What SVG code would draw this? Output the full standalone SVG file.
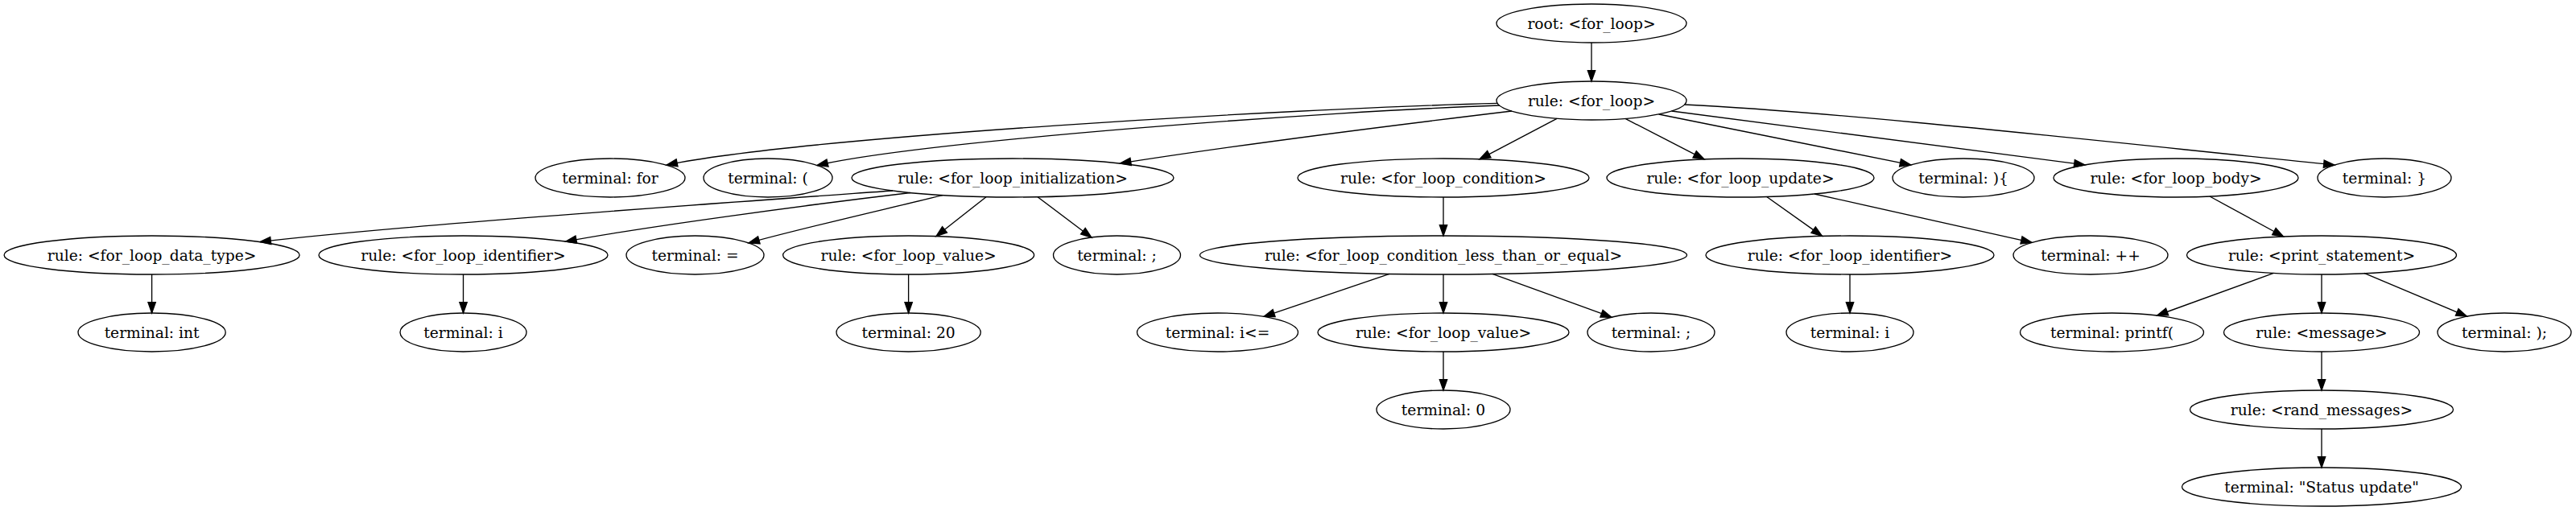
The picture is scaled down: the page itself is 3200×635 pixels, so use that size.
<svg xmlns="http://www.w3.org/2000/svg" width="3200" height="635" viewBox="0 0 3200 635">
<style>
.n ellipse{fill:none;stroke:#000;stroke-width:1.33}
.n text{font-family:"DejaVu Serif","Liberation Serif",serif;font-size:18.67px;text-anchor:middle;fill:#000}
#edges path{fill:none;stroke:#000;stroke-width:1.33;marker-end:url(#arr)}
</style>
<defs>
<marker id="arr" markerWidth="14" markerHeight="10" refX="13.33" refY="4.67" orient="auto" markerUnits="userSpaceOnUse" overflow="visible">
<path d="M0,0 L13.33,4.67 L0,9.33 Z" fill="#000" stroke="#000" stroke-width="1.33"/>
</marker>
</defs>
<rect width="3200" height="635" fill="#fff"/>
<g id="edges">
<path d="M1977,53 L1977,101"/>
<path d="M1860,128.4 C1600,135 1000,170 828,205"/>
<path d="M1863,131 C1650,138 1150,175 1015,205.5"/>
<path d="M1878,138 C1720,157 1550,178 1391.5,203"/>
<path d="M1934,147.4 L1838,197.8"/>
<path d="M2019,147.4 L2117,197.9"/>
<path d="M2060.6,142 L2373.6,204.9"/>
<path d="M2076.5,138 L2590,204.9"/>
<path d="M2092.5,130 C2300,140 2650,180 2900,205"/>
<path d="M1109,237 C900,252 500,280 323,300.6"/>
<path d="M1131,239.5 C1000,255 800,282 702.7,300.1"/>
<path d="M1171,242.6 C1100,260 990,285 930,301.9"/>
<path d="M1225,244.7 L1163,293.6"/>
<path d="M1289,244.7 L1356,295.2"/>
<path d="M1793,245 L1793,293"/>
<path d="M2194.7,244.5 L2263.5,293.4"/>
<path d="M2254,241 L2524,301.4"/>
<path d="M2745,244 L2836.6,294"/>
<path d="M188.6,341 L188.6,389"/>
<path d="M575.5,341 L575.5,389"/>
<path d="M1128.6,341 L1128.6,389"/>
<path d="M1726,340.4 L1570,393.4"/>
<path d="M1793,341 L1793,389"/>
<path d="M1854,340.4 L2002,394.2"/>
<path d="M2298,341 L2298,389"/>
<path d="M2824.4,339.4 L2679.6,392"/>
<path d="M2884,341 L2884,389"/>
<path d="M2936.8,339.4 L3064.5,393.1"/>
<path d="M1793,437 L1793,485"/>
<path d="M2884,437 L2884,485"/>
<path d="M2884,533 L2884,581"/>
</g>
<g id="root" class="n"><ellipse cx="1977" cy="29" rx="118" ry="24"/><text x="1977" y="35.5">root: &lt;for_loop&gt;</text></g>
<g id="for_loop" class="n"><ellipse cx="1977" cy="125" rx="118" ry="24"/><text x="1977" y="131.5">rule: &lt;for_loop&gt;</text></g>
<g id="t_for" class="n"><ellipse cx="758" cy="221" rx="93" ry="24"/><text x="758" y="227.5">terminal: for</text></g>
<g id="t_lparen" class="n"><ellipse cx="954" cy="221" rx="80" ry="24"/><text x="954" y="227.5">terminal: (</text></g>
<g id="init" class="n"><ellipse cx="1258" cy="221" rx="200" ry="24"/><text x="1258" y="227.5">rule: &lt;for_loop_initialization&gt;</text></g>
<g id="cond" class="n"><ellipse cx="1793" cy="221" rx="181" ry="24"/><text x="1793" y="227.5">rule: &lt;for_loop_condition&gt;</text></g>
<g id="update" class="n"><ellipse cx="2162" cy="221" rx="166" ry="24"/><text x="2162" y="227.5">rule: &lt;for_loop_update&gt;</text></g>
<g id="t_rparen_brace" class="n"><ellipse cx="2439" cy="221" rx="88" ry="24"/><text x="2439" y="227.5">terminal: ){</text></g>
<g id="body" class="n"><ellipse cx="2703" cy="221" rx="152" ry="24"/><text x="2703" y="227.5">rule: &lt;for_loop_body&gt;</text></g>
<g id="t_rbrace" class="n"><ellipse cx="2962" cy="221" rx="83" ry="24"/><text x="2962" y="227.5">terminal: }</text></g>
<g id="data_type" class="n"><ellipse cx="188.6" cy="317" rx="183.5" ry="24"/><text x="188.6" y="323.5">rule: &lt;for_loop_data_type&gt;</text></g>
<g id="ident1" class="n"><ellipse cx="575.5" cy="317" rx="179.5" ry="24"/><text x="575.5" y="323.5">rule: &lt;for_loop_identifier&gt;</text></g>
<g id="t_eq" class="n"><ellipse cx="863.5" cy="317" rx="85.5" ry="24"/><text x="863.5" y="323.5">terminal: =</text></g>
<g id="value1" class="n"><ellipse cx="1128.6" cy="317" rx="156" ry="24"/><text x="1128.6" y="323.5">rule: &lt;for_loop_value&gt;</text></g>
<g id="t_semi1" class="n"><ellipse cx="1387.5" cy="317" rx="79" ry="24"/><text x="1387.5" y="323.5">terminal: ;</text></g>
<g id="cond_le" class="n"><ellipse cx="1793" cy="317" rx="302.5" ry="24"/><text x="1793" y="323.5">rule: &lt;for_loop_condition_less_than_or_equal&gt;</text></g>
<g id="ident2" class="n"><ellipse cx="2298" cy="317" rx="179" ry="24"/><text x="2298" y="323.5">rule: &lt;for_loop_identifier&gt;</text></g>
<g id="t_inc" class="n"><ellipse cx="2597" cy="317" rx="96" ry="24"/><text x="2597" y="323.5">terminal: ++</text></g>
<g id="print" class="n"><ellipse cx="2884" cy="317" rx="167.5" ry="24"/><text x="2884" y="323.5">rule: &lt;print_statement&gt;</text></g>
<g id="t_int" class="n"><ellipse cx="188.6" cy="413" rx="91.6" ry="24"/><text x="188.6" y="419.5">terminal: int</text></g>
<g id="t_i1" class="n"><ellipse cx="575.5" cy="413" rx="78.5" ry="24"/><text x="575.5" y="419.5">terminal: i</text></g>
<g id="t_20" class="n"><ellipse cx="1128.6" cy="413" rx="89.6" ry="24"/><text x="1128.6" y="419.5">terminal: 20</text></g>
<g id="t_le" class="n"><ellipse cx="1512.5" cy="413" rx="100" ry="24"/><text x="1512.5" y="419.5">terminal: i&lt;=</text></g>
<g id="value2" class="n"><ellipse cx="1793" cy="413" rx="156" ry="24"/><text x="1793" y="419.5">rule: &lt;for_loop_value&gt;</text></g>
<g id="t_semi2" class="n"><ellipse cx="2051" cy="413" rx="79" ry="24"/><text x="2051" y="419.5">terminal: ;</text></g>
<g id="t_i2" class="n"><ellipse cx="2298" cy="413" rx="79" ry="24"/><text x="2298" y="419.5">terminal: i</text></g>
<g id="t_printf" class="n"><ellipse cx="2623.5" cy="413" rx="114" ry="24"/><text x="2623.5" y="419.5">terminal: printf(</text></g>
<g id="message" class="n"><ellipse cx="2884" cy="413" rx="121.5" ry="24"/><text x="2884" y="419.5">rule: &lt;message&gt;</text></g>
<g id="t_close" class="n"><ellipse cx="3111" cy="413" rx="83" ry="24"/><text x="3111" y="419.5">terminal: );</text></g>
<g id="t_0" class="n"><ellipse cx="1793" cy="509" rx="83" ry="24"/><text x="1793" y="515.5">terminal: 0</text></g>
<g id="rand" class="n"><ellipse cx="2884" cy="509" rx="163.5" ry="24"/><text x="2884" y="515.5">rule: &lt;rand_messages&gt;</text></g>
<g id="t_status" class="n"><ellipse cx="2884" cy="605" rx="173.5" ry="24"/><text x="2884" y="611.5">terminal: "Status update"</text></g>
</svg>
